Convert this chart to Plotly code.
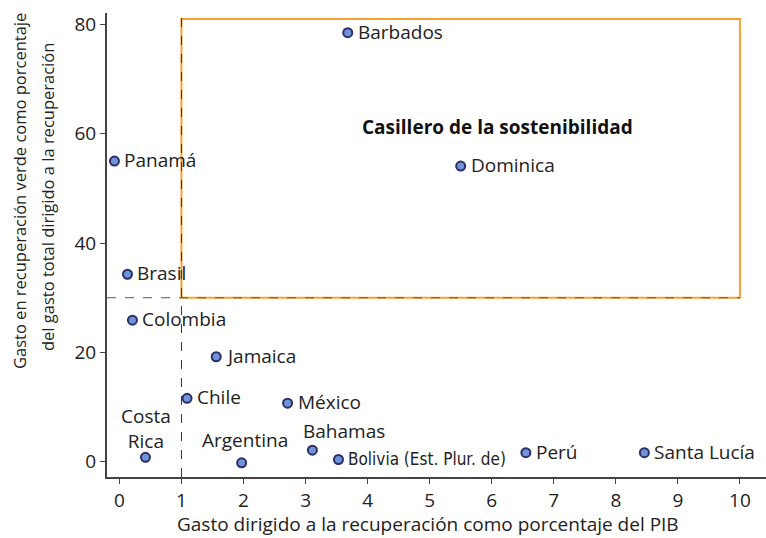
import plotly.graph_objects as go

# Recovery spending data by country
countries = ["Barbados", "Panamá", "Dominica", "Brasil", "Colombia", "Jamaica",
             "Chile", "México", "Costa<br>Rica", "Argentina", "Bahamas",
             "Bolivia (Est. Plur. de)", "Perú", "Santa Lucía"]
gasto_pib = [3.68, -0.08, 5.50, 0.13, 0.21, 1.56, 1.09, 2.71, 0.42, 1.97, 3.11,
             3.53, 6.55, 8.46]
gasto_verde = [78.5, 55.0, 54.1, 34.3, 25.9, 19.2, 11.6, 10.7, 0.8, -0.2, 2.1,
               0.4, 1.65, 1.65]
label_side = ["right", "right", "right", "right", "right", "right", "right",
              "right", "above", "above", "above", "right", "right", "right"]

# Sustainability box thresholds
umbral_pib = 1
umbral_verde = 30
box_x_max = 10
box_y_max = 81

FONT = "Open Sans, Segoe UI, sans-serif"
NARROW = "DejaVu Sans Condensed, Liberation Sans Narrow, Open Sans, sans-serif"
TXT = "#222222"

fig = go.Figure()

# Threshold dashed lines
fig.add_shape(type="line", x0=umbral_pib, x1=umbral_pib, y0=0, y1=1,
              xref="x", yref="paper", line=dict(color="#333333", width=1, dash="dash"),
              layer="above")
fig.add_shape(type="line", x0=-0.2, x1=box_x_max, y0=umbral_verde, y1=umbral_verde,
              xref="x", yref="y", line=dict(color="#555555", width=1, dash="dash"),
              layer="above")

# Sustainability box
fig.add_shape(type="rect", x0=umbral_pib, x1=box_x_max, y0=umbral_verde, y1=box_y_max,
              xref="x", yref="y", line=dict(color="#F5A032", width=2),
              fillcolor="rgba(0,0,0,0)", layer="below")

fig.add_trace(go.Scatter(
    x=gasto_pib, y=gasto_verde, mode="markers",
    marker=dict(size=9, color="#6E93D6", line=dict(color="#2B2D6B", width=2)),
    cliponaxis=False, showlegend=False, hoverinfo="text", text=countries,
))

# Country labels
above_shift = {"Costa<br>Rica": (1, 1), "Argentina": (3, 8), "Bahamas": (32, 4)}
for name, xv, yv, side in zip(countries, gasto_pib, gasto_verde, label_side):
    fam, size = FONT, 19
    if name.startswith("Bolivia"):
        fam, size = NARROW, 17
    if side == "right":
        fig.add_annotation(x=xv, y=yv, text=name, showarrow=False,
                           xanchor="left", yanchor="middle", xshift=8, yshift=1,
                           font=dict(family=fam, size=size, color=TXT))
    else:
        dx, dy = above_shift.get(name, (0, 8))
        fig.add_annotation(x=xv, y=yv, text=name, showarrow=False,
                           xanchor="center", yanchor="bottom", xshift=dx, yshift=dy,
                           font=dict(family=fam, size=size, color=TXT))

fig.add_annotation(x=6.1, y=61.2, xref="x", yref="y",
                   text="<b>Casillero de la sostenibilidad</b>", showarrow=False,
                   font=dict(family=FONT, size=19, color="#111111"))

# Y axis title, two lines
fig.add_annotation(x=(20 - 107) / 659, y=(477 - 191) / 464, xref="paper", yref="paper",
                   text="Gasto en recuperación verde como porcentaje",
                   textangle=-90, showarrow=False, xanchor="center", yanchor="middle",
                   font=dict(family=FONT, size=16.5, color=TXT))
fig.add_annotation(x=(47 - 107) / 659, y=(477 - 197) / 464, xref="paper", yref="paper",
                   text="del gasto total dirigido a la recuperación",
                   textangle=-90, showarrow=False, xanchor="center", yanchor="middle",
                   font=dict(family=FONT, size=16.5, color=TXT))

fig.add_annotation(x=(427.5 - 107) / 659, y=(477 - 524) / 464, xref="paper", yref="paper",
                   text="Gasto dirigido a la recuperación como porcentaje del PIB",
                   showarrow=False, xanchor="center", yanchor="middle",
                   font=dict(family=FONT, size=19, color=TXT))

axis_common = dict(showgrid=False, zeroline=False, showline=True, linecolor="#444444",
                   linewidth=2, ticks="outside", ticklen=5, tickcolor="#444444",
                   tickwidth=1, tickfont=dict(family=FONT, size=19, color=TXT))

fig.update_xaxes(range=[-0.2, 10.42], tickvals=list(range(0, 11)), **axis_common)
fig.update_yaxes(range=[-2.8, 82.1], tickvals=[0, 20, 40, 60, 80], **axis_common)

fig.update_layout(
    width=766, height=538,
    margin=dict(l=107, r=0, t=13, b=61),
    plot_bgcolor="white", paper_bgcolor="white",
    font=dict(family=FONT, size=16, color=TXT),
)

fig.write_html("out.html")
